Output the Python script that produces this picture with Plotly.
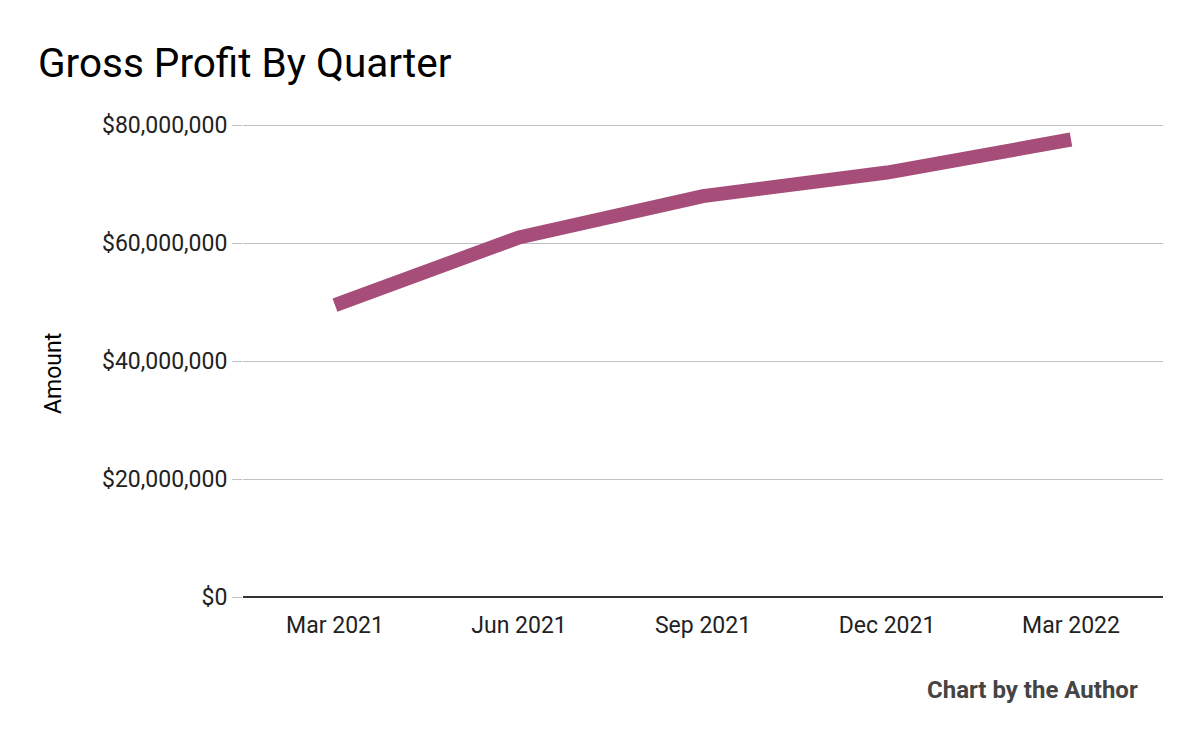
import plotly.graph_objects as go

quarters = ["Mar 2021", "Jun 2021", "Sep 2021", "Dec 2021", "Mar 2022"]
gross_profit = [49500000, 61000000, 68000000, 72000000, 77600000]
y_ticks = [0, 20000000, 40000000, 60000000, 80000000]
y_tick_labels = ["$0", "$20,000,000", "$40,000,000", "$60,000,000", "$80,000,000"]

fig = go.Figure()
fig.add_trace(go.Scatter(
    x=quarters, y=gross_profit, mode="lines",
    line=dict(color="#A64D79", width=14),
    cliponaxis=False, hoverinfo="x+y",
))

fig.update_layout(
    width=1200, height=742,
    paper_bgcolor="white", plot_bgcolor="white",
    margin=dict(l=243, r=37, t=123, b=145),
    font=dict(family="Roboto", color="#222222", size=23),
    title=dict(text="Gross Profit By Quarter", x=38/1200, xanchor="left",
               y=1 - 63/742, yanchor="middle",
               font=dict(family="Roboto", size=40.5, color="#000000")),
    showlegend=False,
    xaxis=dict(type="category", range=[-0.5, 4.5], showgrid=False,
               showline=False, ticks="", tickfont=dict(size=23, color="#222222"),
               ticklabelstandoff=12),
    yaxis=dict(range=[0, 80400000], tickvals=y_ticks, ticktext=y_tick_labels,
               showgrid=True, gridcolor="#c0c0c0", gridwidth=1.3,
               zeroline=True, zerolinecolor="#333333", zerolinewidth=1.5,
               ticks="outside", ticklen=10, tickcolor="#c0c0c0",
               tickfont=dict(size=23, color="#222222")),
    annotations=[
        dict(text="Amount", xref="paper", yref="paper", textangle=-90,
             x=-(243 - 53) / 920, xanchor="center",
             y=(597 - 374) / 474, yanchor="middle", showarrow=False,
             font=dict(family="Roboto", size=23, color="#000000")),
        dict(text="<b>Chart by the Author</b>", xref="paper", yref="paper",
             x=(1140 - 243) / 920, xanchor="right",
             y=-(690 - 597) / 474, yanchor="middle", showarrow=False,
             font=dict(family="Roboto", size=24, color="#444444")),
    ],
)

fig.write_html("out.html")
